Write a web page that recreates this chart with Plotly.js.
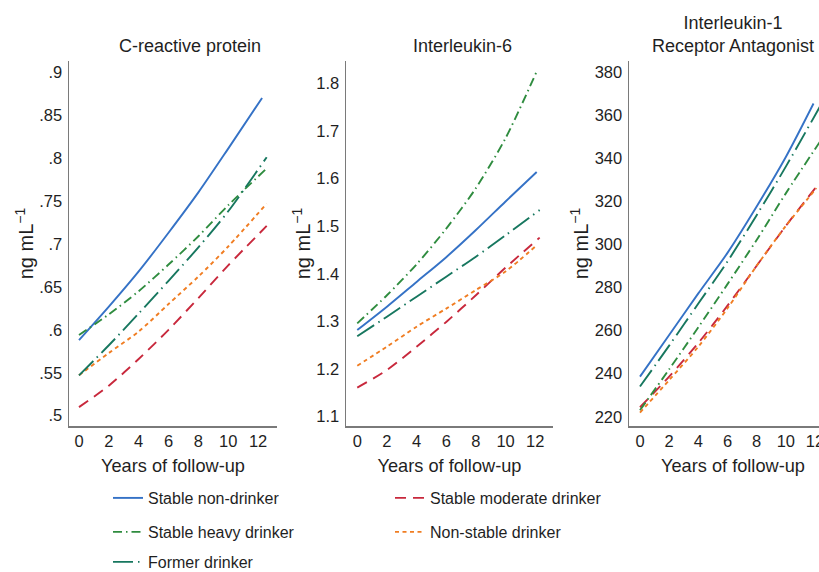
<!DOCTYPE html>
<html>
<head>
<meta charset="utf-8">
<script src="https://cdn.plot.ly/plotly-3.0.1.min.js"></script>
<style>
  html, body { margin: 0; padding: 0; background: #ffffff; overflow: hidden; }
  #chart { width: 845px; height: 572px; }
</style>
</head>
<body>
<div id="chart"></div>
<script>
// ---------- DATA ----------
const groupNames = ["Stable non-drinker", "Stable moderate drinker", "Stable heavy drinker", "Non-stable drinker", "Former drinker"];
const panelTitles = ["C-reactive protein", "Interleukin-6", "Interleukin-1<br>Receptor Antagonist"];
const xAxisTitle = "Years of follow-up";
const yAxisTitle = "ng mL<sup>−1</sup>";

// years of follow-up at which the curves were read (last value of each series is its end point)
const yearsGrid = [0, 2, 4, 6, 8, 10];

// C-reactive protein
const crpNonDrinker = [0.588, 0.627, 0.668, 0.713, 0.760, 0.811, 0.870];
const crpModerate   = [0.510, 0.535, 0.566, 0.600, 0.637, 0.675, 0.721];
const crpHeavy      = [0.594, 0.618, 0.645, 0.676, 0.709, 0.745, 0.788];
const crpNonStable  = [0.547, 0.573, 0.598, 0.630, 0.662, 0.697, 0.747];
const crpFormer     = [0.547, 0.582, 0.619, 0.657, 0.696, 0.738, 0.801];
const crpEndYears   = [12.27, 12.58, 12.58, 12.58, 12.58];

// Interleukin-6
const il6NonDrinker = [1.282, 1.331, 1.383, 1.435, 1.492, 1.552, 1.614];
const il6Moderate   = [1.161, 1.198, 1.247, 1.299, 1.355, 1.413, 1.476];
const il6Heavy      = [1.296, 1.355, 1.420, 1.495, 1.580, 1.685, 1.825];
const il6NonStable  = [1.207, 1.247, 1.289, 1.327, 1.366, 1.405, 1.460];
const il6Former     = [1.269, 1.310, 1.352, 1.394, 1.436, 1.481, 1.534];
const il6EndYears   = [12.1, 12.3, 12.1, 12.1, 12.3];

// Interleukin-1 Receptor Antagonist
const il1raNonDrinker = [238.6, 257.9, 277.2, 296.0, 317.5, 340.5, 365.3];
const il1raModerate   = [224.4, 238.6, 254.2, 271.5, 290.0, 308.5, 326.7];
const il1raHeavy      = [223.0, 242.0, 261.5, 281.5, 302.0, 323.6, 350.2];
const il1raNonStable  = [221.9, 237.0, 252.5, 270.3, 290.0, 308.5, 326.0];
const il1raFormer     = [234.0, 253.0, 272.5, 292.0, 313.5, 336.0, 367.0];
const il1raEndYears   = [11.9, 12.1, 12.6, 12.1, 12.6];

// tick labels
const xTickVals = [0, 2, 4, 6, 8, 10, 12];
const xTickText = ["0", "2", "4", "6", "8", "10", "12"];
const crpTickVals = [0.5, 0.55, 0.6, 0.65, 0.7, 0.75, 0.8, 0.85, 0.9];
const crpTickText = [".5", ".55", ".6", ".65", ".7", ".75", ".8", ".85", ".9"];
const il6TickVals = [1.1, 1.2, 1.3, 1.4, 1.5, 1.6, 1.7, 1.8];
const il6TickText = ["1.1", "1.2", "1.3", "1.4", "1.5", "1.6", "1.7", "1.8"];
const il1raTickVals = [220, 240, 260, 280, 300, 320, 340, 360, 380];
const il1raTickText = ["220", "240", "260", "280", "300", "320", "340", "360", "380"];

// ---------- STYLES ----------
const W = 845, H = 572;
const FONT = "Liberation Sans, Arial, Helvetica, sans-serif";
const TEXT = "#1f1f1f";
const styles = [
  { color: "#3572c6", dash: "solid" },               // Stable non-drinker
  { color: "#c8283c", dash: "11px,7px" },            // Stable moderate drinker
  { color: "#2f8c3f", dash: "9px,4px,1.5px,4px" },   // Stable heavy drinker
  { color: "#f07d22", dash: "4px,3.5px" },           // Non-stable drinker
  { color: "#17775f", dash: "20px,5px,1.5px,5px" }   // Former drinker
];
const legendOf = ["legend", "legend", "legend2", "legend2", "legend3"];

const panels = [
  { series: [crpNonDrinker, crpModerate, crpHeavy, crpNonStable, crpFormer], ends: crpEndYears, xa: "x", ya: "y" },
  { series: [il6NonDrinker, il6Moderate, il6Heavy, il6NonStable, il6Former], ends: il6EndYears, xa: "x2", ya: "y2" },
  { series: [il1raNonDrinker, il1raModerate, il1raHeavy, il1raNonStable, il1raFormer], ends: il1raEndYears, xa: "x3", ya: "y3" }
];

const traces = [];
panels.forEach((p, pi) => {
  p.series.forEach((vals, si) => {
    traces.push({
      type: "scatter",
      mode: "lines",
      x: yearsGrid.concat([p.ends[si]]),
      y: vals,
      xaxis: p.xa,
      yaxis: p.ya,
      name: groupNames[si],
      legend: legendOf[si],
      showlegend: pi === 0,
      line: { color: styles[si].color, dash: styles[si].dash, width: 1.9, shape: "spline", smoothing: 0.8 },
      hoverinfo: "skip"
    });
  });
});

// pixel helpers
const px = v => v / W;
const py = v => 1 - v / H;
const yDomain = [py(426), py(61)];

function xAxis(l, r, range) {
  return {
    domain: [px(l), px(r)], range: range, showline: true, linecolor: "#7a7a7a", linewidth: 1.5,
    showgrid: false, zeroline: false, ticks: "", tickvals: xTickVals, ticktext: xTickText,
    tickfont: { family: FONT, size: 16.5, color: TEXT }, ticklabelstandoff: 0,
    title: { text: xAxisTitle, font: { family: FONT, size: 18.2, color: TEXT }, standoff: 10 },
    automargin: false, fixedrange: true
  };
}
function yAxis(range, tv, tt) {
  return {
    domain: yDomain, range: range, showline: true, linecolor: "#7a7a7a", linewidth: 1.5,
    showgrid: false, zeroline: false, ticks: "", tickvals: tv, ticktext: tt,
    tickfont: { family: FONT, size: 16.5, color: TEXT }, ticklabelstandoff: 2,
    title: { text: yAxisTitle, font: { family: FONT, size: 20, color: TEXT }, standoff: 0 },
    automargin: false, fixedrange: true
  };
}

const legendBase = {
  orientation: "h", xanchor: "left", yanchor: "middle",
  xref: "container", yref: "container",
  font: { family: FONT, size: 16, color: TEXT },
  bgcolor: "rgba(0,0,0,0)", borderwidth: 0,
  entrywidth: 237, entrywidthmode: "pixels", traceorder: "normal"
};

const layout = {
  width: W, height: H,
  margin: { l: 0, r: 0, t: 0, b: 0, autoexpand: false },
  paper_bgcolor: "#ffffff", plot_bgcolor: "#ffffff",
  font: { family: FONT, color: TEXT },
  xaxis: Object.assign(xAxis(69, 277, [-0.67, 13.27]), { anchor: "y" }),
  yaxis: Object.assign(yAxis([0.488, 0.913], crpTickVals, crpTickText), { anchor: "x" }),
  xaxis2: Object.assign(xAxis(346, 553, [-0.76, 13.2]), { anchor: "y2" }),
  yaxis2: Object.assign(yAxis([1.0804, 1.847], il6TickVals, il6TickText), { anchor: "x2" }),
  xaxis3: Object.assign(xAxis(629, 837, [-0.754, 13.51]), { anchor: "y3" }),
  yaxis3: Object.assign(yAxis([215.7, 385], il1raTickVals, il1raTickText), { anchor: "x3" }),
  showlegend: true,
  legend:  Object.assign({}, legendBase, { x: px(108), y: py(498) }),
  legend2: Object.assign({}, legendBase, { x: px(108), y: py(532) }),
  legend3: Object.assign({}, legendBase, { x: px(108), y: py(562) }),
  annotations: [
    { text: panelTitles[0], x: px(190), y: py(46), xref: "paper", yref: "paper", xanchor: "center", yanchor: "middle", showarrow: false, font: { family: FONT, size: 18, color: TEXT } },
    { text: panelTitles[1], x: px(462), y: py(46), xref: "paper", yref: "paper", xanchor: "center", yanchor: "middle", showarrow: false, font: { family: FONT, size: 18, color: TEXT } },
    { text: panelTitles[2], x: px(733), y: py(34.5), xref: "paper", yref: "paper", xanchor: "center", yanchor: "middle", showarrow: false, font: { family: FONT, size: 18, color: TEXT } }
  ]
};

Plotly.newPlot("chart", traces, layout, { staticPlot: true, displayModeBar: false });
</script>
</body>
</html>
